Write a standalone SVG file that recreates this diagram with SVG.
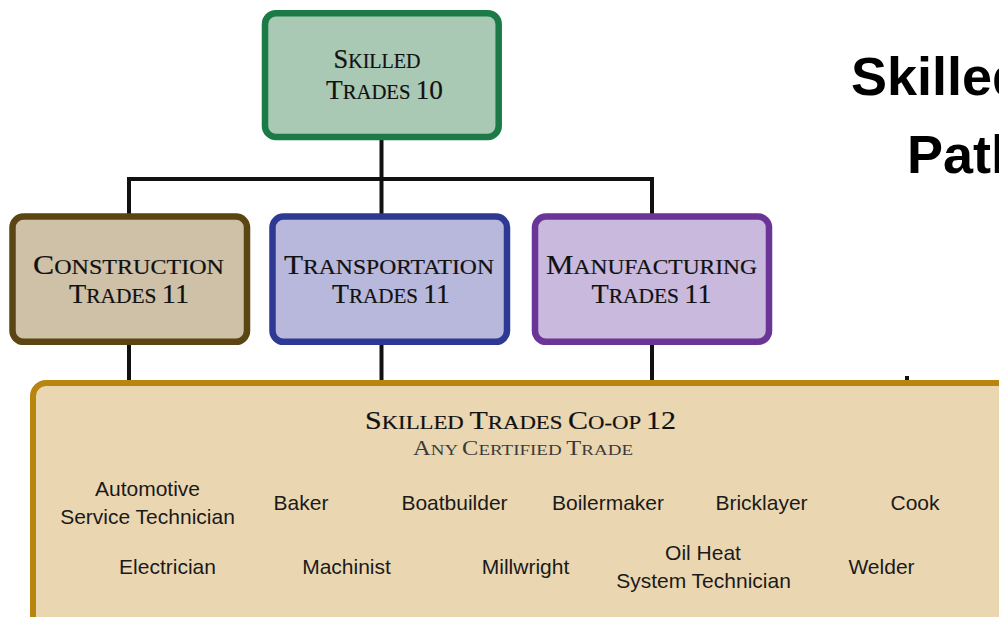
<svg xmlns="http://www.w3.org/2000/svg" width="999" height="617" viewBox="0 0 999 617">
<style>
.box{stroke-width:6.5}
.cap{font-family:"Liberation Serif","Times New Roman",serif;fill:#111;stroke:#111;stroke-width:0.2;text-anchor:middle}
.sub{font-family:"Liberation Serif","Times New Roman",serif;fill:#3a3a3a;text-anchor:middle}
.item{font-family:"Liberation Sans",Arial,sans-serif;font-size:21px;fill:#1a1a1a;text-anchor:middle}
.conn{stroke:#111;stroke-width:4;fill:none}
.title{font-family:"Liberation Sans",Arial,sans-serif;font-weight:bold;font-size:54px;fill:#000}
</style>
<rect width="999" height="617" fill="#ffffff"/>
<g id="connectors">
<line class="conn" x1="381.5" y1="138" x2="381.5" y2="179"/>
<line class="conn" x1="127" y1="179" x2="654" y2="179"/>
<line class="conn" x1="129" y1="177" x2="129" y2="215"/>
<line class="conn" x1="381.5" y1="177" x2="381.5" y2="215"/>
<line class="conn" x1="652" y1="177" x2="652" y2="215"/>
<line class="conn" x1="129" y1="343" x2="129" y2="383"/>
<line class="conn" x1="381.5" y1="343" x2="381.5" y2="383"/>
<line class="conn" x1="652" y1="343" x2="652" y2="383"/>
<line class="conn" x1="907" y1="376" x2="907" y2="383" stroke-width="3"/>
</g>
<g id="skilled-trades-10">
<rect class="box" x="265" y="13.2" width="233.7" height="123.8" rx="11" fill="#a9c9b4" stroke="#1b7a45"/>
<text class="cap" x="377" y="68" textLength="87" lengthAdjust="spacingAndGlyphs"><tspan font-size="27">S</tspan><tspan font-size="20.5">KILLED</tspan></text>
<text class="cap" x="384.5" y="99" textLength="117" lengthAdjust="spacingAndGlyphs"><tspan font-size="27">T</tspan><tspan font-size="20.5">RADES </tspan><tspan font-size="27">10</tspan></text>
</g>
<g id="construction-trades-11">
<rect class="box" x="12.5" y="216.5" width="234.5" height="125.3" rx="11" fill="#cec1a7" stroke="#5b4512"/>
<text class="cap" x="128.5" y="273.5" textLength="191" lengthAdjust="spacingAndGlyphs"><tspan font-size="27">C</tspan><tspan font-size="20.5">ONSTRUCTION</tspan></text>
<text class="cap" x="129" y="302.5" textLength="120" lengthAdjust="spacingAndGlyphs"><tspan font-size="27">T</tspan><tspan font-size="20.5">RADES </tspan><tspan font-size="27">11</tspan></text>
</g>
<g id="transportation-trades-11">
<rect class="box" x="272.5" y="216.5" width="234.5" height="125.3" rx="11" fill="#b8b8dc" stroke="#2e3994"/>
<text class="cap" x="389" y="273.5" textLength="210" lengthAdjust="spacingAndGlyphs"><tspan font-size="27">T</tspan><tspan font-size="20.5">RANSPORTATION</tspan></text>
<text class="cap" x="391" y="302.5" textLength="118" lengthAdjust="spacingAndGlyphs"><tspan font-size="27">T</tspan><tspan font-size="20.5">RADES </tspan><tspan font-size="27">11</tspan></text>
</g>
<g id="manufacturing-trades-11">
<rect class="box" x="535" y="216.5" width="234" height="125.3" rx="11" fill="#c9b9dd" stroke="#6a3596"/>
<text class="cap" x="651.5" y="273.5" textLength="211" lengthAdjust="spacingAndGlyphs"><tspan font-size="27">M</tspan><tspan font-size="20.5">ANUFACTURING</tspan></text>
<text class="cap" x="651.5" y="302.5" textLength="120" lengthAdjust="spacingAndGlyphs"><tspan font-size="27">T</tspan><tspan font-size="20.5">RADES </tspan><tspan font-size="27">11</tspan></text>
</g>
<g id="skilled-trades-coop-12">
<rect x="33" y="383" width="1000" height="260" rx="13" fill="#ead7b2" stroke="#b8860f" stroke-width="6"/>
<text class="cap" x="520.5" y="428.5" textLength="311" lengthAdjust="spacingAndGlyphs"><tspan font-size="25">S</tspan><tspan font-size="19">KILLED </tspan><tspan font-size="25">T</tspan><tspan font-size="19">RADES </tspan><tspan font-size="25">C</tspan><tspan font-size="19">O-OP </tspan><tspan font-size="25">12</tspan></text>
<text class="sub" x="523" y="455" textLength="220" lengthAdjust="spacingAndGlyphs"><tspan font-size="20">A</tspan><tspan font-size="15.5">NY </tspan><tspan font-size="20">C</tspan><tspan font-size="15.5">ERTIFIED </tspan><tspan font-size="20">T</tspan><tspan font-size="15.5">RADE</tspan></text>
<text class="item" x="147.5" y="496">Automotive</text>
<text class="item" x="147.5" y="524">Service Technician</text>
<text class="item" x="301" y="510">Baker</text>
<text class="item" x="454.5" y="510">Boatbuilder</text>
<text class="item" x="608" y="510">Boilermaker</text>
<text class="item" x="761.5" y="510">Bricklayer</text>
<text class="item" x="915" y="510">Cook</text>
<text class="item" x="167.5" y="574">Electrician</text>
<text class="item" x="346.5" y="574">Machinist</text>
<text class="item" x="525.5" y="574">Millwright</text>
<text class="item" x="703" y="560">Oil Heat</text>
<text class="item" x="703.5" y="588">System Technician</text>
<text class="item" x="881.5" y="574">Welder</text>
</g>
<g id="title">
<text class="title" x="851" y="95">Skilled</text>
<text class="title" x="907" y="173">Path</text>
</g>
</svg>
